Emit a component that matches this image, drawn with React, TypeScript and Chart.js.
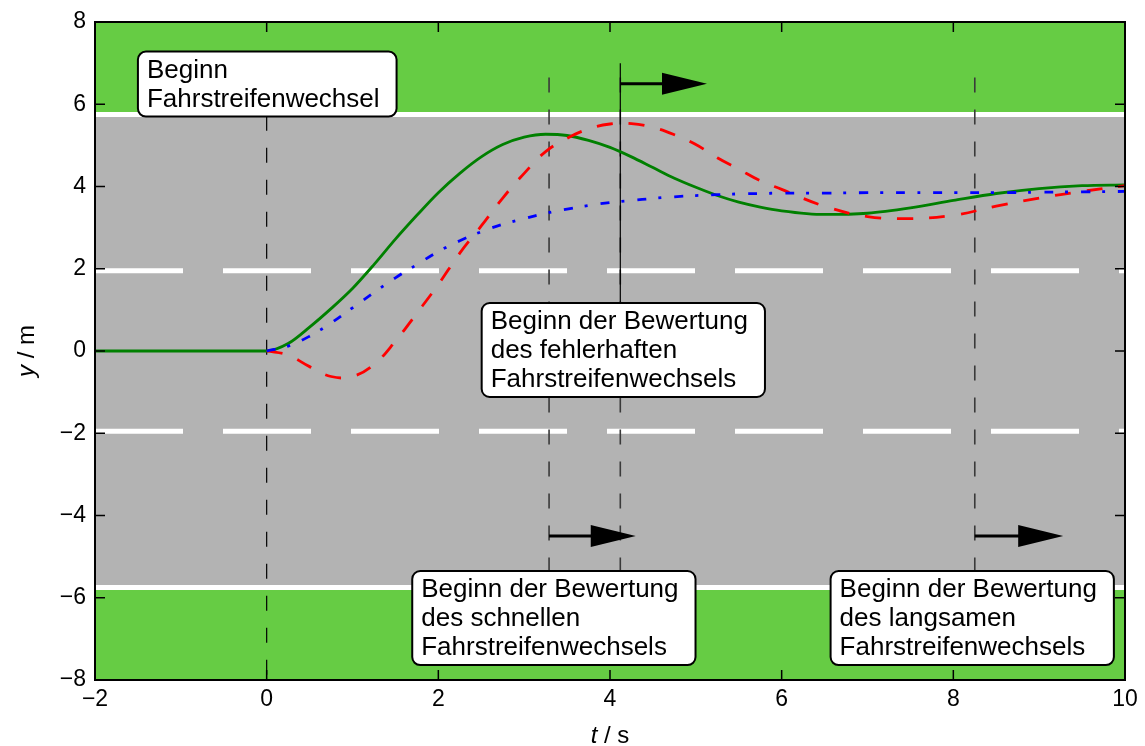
import { useEffect, useRef } from "react";
import { Chart, registerables } from "chart.js";

Chart.register(...registerables);

// ---------- data ----------
const timeS = [-2, -1, -0.5, -0.25, 0, 0.25, 0.5, 0.75, 1, 1.25, 1.5, 1.75, 2, 2.25, 2.5, 2.75, 3, 3.25, 3.5, 3.75, 4, 4.25, 4.5, 4.75, 5, 5.25, 5.5, 5.75, 6, 6.5, 7, 7.5, 8, 8.5, 9, 9.5, 10];

const greenY = [0, 0, 0, 0, 0, 0.18, 0.58, 1.03, 1.52, 2.1, 2.72, 3.3, 3.85, 4.32, 4.72, 5.02, 5.2, 5.27, 5.24, 5.12, 4.95, 4.72, 4.46, 4.2, 3.98, 3.78, 3.62, 3.5, 3.41, 3.32, 3.35, 3.48, 3.66, 3.83, 3.95, 4.02, 4.04];

const redY = [null, null, null, null, 0, -0.1, -0.38, -0.62, -0.62, -0.33, 0.24, 0.92, 1.62, 2.38, 3.04, 3.72, 4.32, 4.85, 5.17, 5.4, 5.52, 5.53, 5.44, 5.26, 5.02, 4.7, 4.42, 4.14, 3.93, 3.52, 3.27, 3.22, 3.3, 3.52, 3.72, 3.88, 4.02];

const blueY = [null, null, null, null, 0, 0.12, 0.36, 0.68, 1.05, 1.42, 1.78, 2.1, 2.42, 2.68, 2.9, 3.08, 3.22, 3.35, 3.45, 3.54, 3.61, 3.66, 3.71, 3.75, 3.78, 3.8, 3.82, 3.83, 3.84, 3.84, 3.85, 3.85, 3.85, 3.85, 3.86, 3.87, 3.88];

const xTicks = [-2, 0, 2, 4, 6, 8, 10];
const yTicks = [-8, -6, -4, -2, 0, 2, 4, 6, 8];

// road geometry (metres)
const laneSpanT = [-2, 10];
const roadEdgeY = [5.75, -5.75];
const laneMarkY = [1.95, -1.95];

// vertical marker lines
const markerT = [0, 3.29, 4.12, 8.25];
const markerTopY = [6.5, 6.65, 6.65, 6.65];
const markerBottomY = [-8, -5.6, -5.6, -5.6];
const solidMarkerT = [4.12];
const solidMarkerTopY = [7.0];
const solidMarkerBottomY = [1.0];

// arrows
const arrowStartT = [4.12, 3.29, 8.25];
const arrowEndT = [5.13, 4.3, 9.28];
const arrowY = [6.5, -4.5, -4.5];

// text boxes (top-left corner in data units)
const labelLines = [
  ["Beginn", "Fahrstreifenwechsel"],
  ["Beginn der Bewertung", "des fehlerhaften", "Fahrstreifenwechsels"],
  ["Beginn der Bewertung", "des schnellen", "Fahrstreifenwechsels"],
  ["Beginn der Bewertung", "des langsamen", "Fahrstreifenwechsels"],
];
const labelLeftT = [-1.5, 2.505, 1.696, 6.57];
const labelTopY = [7.28, 1.167, -5.35, -5.35];

// ---------- styling ----------
const FONT = '"Liberation Sans", Arial, Helvetica, sans-serif';
const FIELD = "#66cc44";
const ROAD = "#b3b3b3";

const fmt = (v: number) => (v < 0 ? "\u2212" + Math.abs(v) : String(v));

const pts = (xs: number[], ys: (number | null)[]) => xs.map((x, i) => ({ x, y: ys[i] }));

const bgPlugin = {
  id: "roadBg",
  beforeDraw(chart: any) {
    const { ctx, chartArea: a, scales } = chart;
    const y = scales.y;
    ctx.save();
    ctx.fillStyle = FIELD;
    ctx.fillRect(a.left, a.top, a.right - a.left, a.bottom - a.top);
    const yt = y.getPixelForValue(roadEdgeY[0]);
    const yb = y.getPixelForValue(roadEdgeY[1]);
    ctx.fillStyle = ROAD;
    ctx.fillRect(a.left, yt, a.right - a.left, yb - yt);
    ctx.restore();
  },
};

const arrowPlugin = {
  id: "arrows",
  afterDatasetsDraw(chart: any) {
    const { ctx, scales } = chart;
    const x = scales.x, y = scales.y;
    ctx.save();
    arrowStartT.forEach((t0, i) => {
      const x0 = x.getPixelForValue(t0);
      const x1 = x.getPixelForValue(arrowEndT[i]);
      const py = y.getPixelForValue(arrowY[i]);
      const headLen = 45, headHalf = 11;
      ctx.strokeStyle = "#000";
      ctx.lineWidth = 3;
      ctx.beginPath();
      ctx.moveTo(x0, py);
      ctx.lineTo(x1 - headLen + 2, py);
      ctx.stroke();
      ctx.fillStyle = "#000";
      ctx.beginPath();
      ctx.moveTo(x1, py);
      ctx.lineTo(x1 - headLen, py - headHalf);
      ctx.lineTo(x1 - headLen, py + headHalf);
      ctx.closePath();
      ctx.fill();
    });
    ctx.restore();
  },
};

function roundRect(ctx: CanvasRenderingContext2D, x: number, y: number, w: number, h: number, r: number) {
  ctx.beginPath();
  ctx.moveTo(x + r, y);
  ctx.lineTo(x + w - r, y);
  ctx.arcTo(x + w, y, x + w, y + r, r);
  ctx.lineTo(x + w, y + h - r);
  ctx.arcTo(x + w, y + h, x + w - r, y + h, r);
  ctx.lineTo(x + r, y + h);
  ctx.arcTo(x, y + h, x, y + h - r, r);
  ctx.lineTo(x, y + r);
  ctx.arcTo(x, y, x + r, y, r);
  ctx.closePath();
}

const framePlugin = {
  id: "frame",
  afterDraw(chart: any) {
    const { ctx, chartArea: a, scales } = chart;
    const x = scales.x, y = scales.y;
    ctx.save();
    // inward ticks
    ctx.strokeStyle = "#000";
    ctx.lineWidth = 1.5;
    const tl = 10;
    xTicks.forEach((v) => {
      const px = x.getPixelForValue(v);
      ctx.beginPath();
      ctx.moveTo(px, a.bottom);
      ctx.lineTo(px, a.bottom - tl);
      ctx.moveTo(px, a.top);
      ctx.lineTo(px, a.top + tl);
      ctx.stroke();
    });
    yTicks.forEach((v) => {
      const py = y.getPixelForValue(v);
      ctx.beginPath();
      ctx.moveTo(a.left, py);
      ctx.lineTo(a.left + tl, py);
      ctx.moveTo(a.right, py);
      ctx.lineTo(a.right - tl, py);
      ctx.stroke();
    });
    // frame
    ctx.lineWidth = 2;
    ctx.strokeRect(a.left, a.top, a.right - a.left, a.bottom - a.top);

    // text boxes
    const fs = 26;
    const lh = 29;
    ctx.font = `${fs}px ${FONT}`;
    labelLines.forEach((lines, i) => {
      const bx = x.getPixelForValue(labelLeftT[i]);
      const by = y.getPixelForValue(labelTopY[i]);
      const tw = Math.max(...lines.map((l) => ctx.measureText(l).width));
      const bw = tw + 9 + 17;
      const bh = 36 + lh * (lines.length - 1);
      roundRect(ctx, bx, by, bw, bh, 8);
      ctx.fillStyle = "#fff";
      ctx.fill();
      ctx.lineWidth = 2;
      ctx.strokeStyle = "#000";
      ctx.stroke();
      ctx.fillStyle = "#000";
      ctx.textBaseline = "middle";
      ctx.textAlign = "left";
      lines.forEach((l, j) => {
        ctx.fillText(l, bx + 9, by + 19 + lh * j);
      });
    });

    // axis titles with italic variable
    const drawTitle = (parts: [string, boolean][], cx: number, cy: number, rot: number) => {
      ctx.save();
      ctx.translate(cx, cy);
      ctx.rotate(rot);
      ctx.textBaseline = "middle";
      ctx.textAlign = "left";
      const widths = parts.map(([s, it]) => {
        ctx.font = `${it ? "italic " : ""}24px ${FONT}`;
        return ctx.measureText(s).width;
      });
      const total = widths.reduce((p, c) => p + c, 0);
      let cur = -total / 2;
      parts.forEach(([s, it], k) => {
        ctx.font = `${it ? "italic " : ""}24px ${FONT}`;
        ctx.fillStyle = "#000";
        ctx.fillText(s, cur, 0);
        cur += widths[k];
      });
      ctx.restore();
    };
    drawTitle([["t", true], [" / s", false]], (a.left + a.right) / 2, 736, 0);
    drawTitle([["y", true], [" / m", false]], 27, (a.top + a.bottom) / 2, -Math.PI / 2);
    ctx.restore();
  },
};

export default function App() {
  const ref = useRef<HTMLCanvasElement | null>(null);

  useEffect(() => {
    if (!ref.current) return;
    const datasets: any[] = [];

    // lane lines
    roadEdgeY.forEach((yy) =>
      datasets.push({
        data: laneSpanT.map((t) => ({ x: t, y: yy })),
        borderColor: "#ffffff",
        borderWidth: 5,
        tension: 0,
        order: 20,
      })
    );
    laneMarkY.forEach((yy) =>
      datasets.push({
        data: laneSpanT.map((t) => ({ x: t, y: yy })),
        borderColor: "#ffffff",
        borderWidth: 5,
        borderDash: [88, 40],
        tension: 0,
        order: 19,
      })
    );

    // marker lines
    markerT.forEach((t, i) =>
      datasets.push({
        data: [
          { x: t, y: markerTopY[i] },
          { x: t, y: markerBottomY[i] },
        ],
        borderColor: i === 0 ? "#000000" : "#3a3a3a",
        borderWidth: i === 0 ? 1.2 : 1.6,
        borderDash: [15, 17],
        tension: 0,
        order: 10,
      })
    );
    solidMarkerT.forEach((t, i) =>
      datasets.push({
        data: [
          { x: t, y: solidMarkerTopY[i] },
          { x: t, y: solidMarkerBottomY[i] },
        ],
        borderColor: "#000000",
        borderWidth: 1.2,
        tension: 0,
        order: 9,
      })
    );

    // curves
    datasets.push({
      label: "green",
      data: pts(timeS, greenY),
      borderColor: "#008000",
      borderWidth: 2.8,
      cubicInterpolationMode: "monotone",
      order: 3,
    });
    datasets.push({
      label: "red",
      data: pts(timeS, redY),
      borderColor: "#ff0000",
      borderWidth: 2.8,
      borderDash: [16, 16],
      tension: 0.4,
      order: 2,
    });
    datasets.push({
      label: "blue",
      data: pts(timeS, blueY),
      borderColor: "#0000ff",
      borderWidth: 2.8,
      borderDash: [9, 12, 3, 13],
      tension: 0.4,
      order: 1,
    });

    const chart = new Chart(ref.current, {
      type: "line",
      data: { datasets },
      plugins: [bgPlugin, arrowPlugin, framePlugin],
      options: {
        responsive: false,
        animation: false,
        devicePixelRatio: 1,
        layout: { padding: { top: 22, right: 20, left: 0, bottom: 0 } },
        plugins: { legend: { display: false }, tooltip: { enabled: false } },
        elements: { point: { radius: 0, hitRadius: 0 }, line: { fill: false } },
        scales: {
          x: {
            type: "linear",
            min: -2,
            max: 10,
            grid: { display: false, drawTicks: false },
            border: { display: false },
            afterBuildTicks: (s: any) => {
              s.ticks = xTicks.map((v) => ({ value: v }));
            },
            ticks: {
              padding: 6,
              color: "#000",
              font: { family: FONT, size: 23 },
              maxRotation: 0,
              autoSkip: false,
              callback: (v: any) => fmt(Number(v)),
            },
            afterFit: (s: any) => {
              s.height = 66;
              s.paddingLeft = 0;
              s.paddingRight = 0;
            },
          },
          y: {
            type: "linear",
            min: -8,
            max: 8,
            grid: { display: false, drawTicks: false },
            border: { display: false },
            afterBuildTicks: (s: any) => {
              s.ticks = yTicks.map((v) => ({ value: v }));
            },
            ticks: {
              padding: 9,
              color: "#000",
              font: { family: FONT, size: 23 },
              autoSkip: false,
              callback: (v: any) => fmt(Number(v)),
            },
            afterFit: (s: any) => {
              s.width = 95;
              s.paddingTop = 0;
              s.paddingBottom = 0;
            },
          },
        },
      } as any,
    });
    return () => chart.destroy();
  }, []);

  return (
    <canvas
      ref={ref}
      width={1145}
      height={746}
      style={{ position: "absolute", left: 0, top: 0, display: "block" }}
    />
  );
}
